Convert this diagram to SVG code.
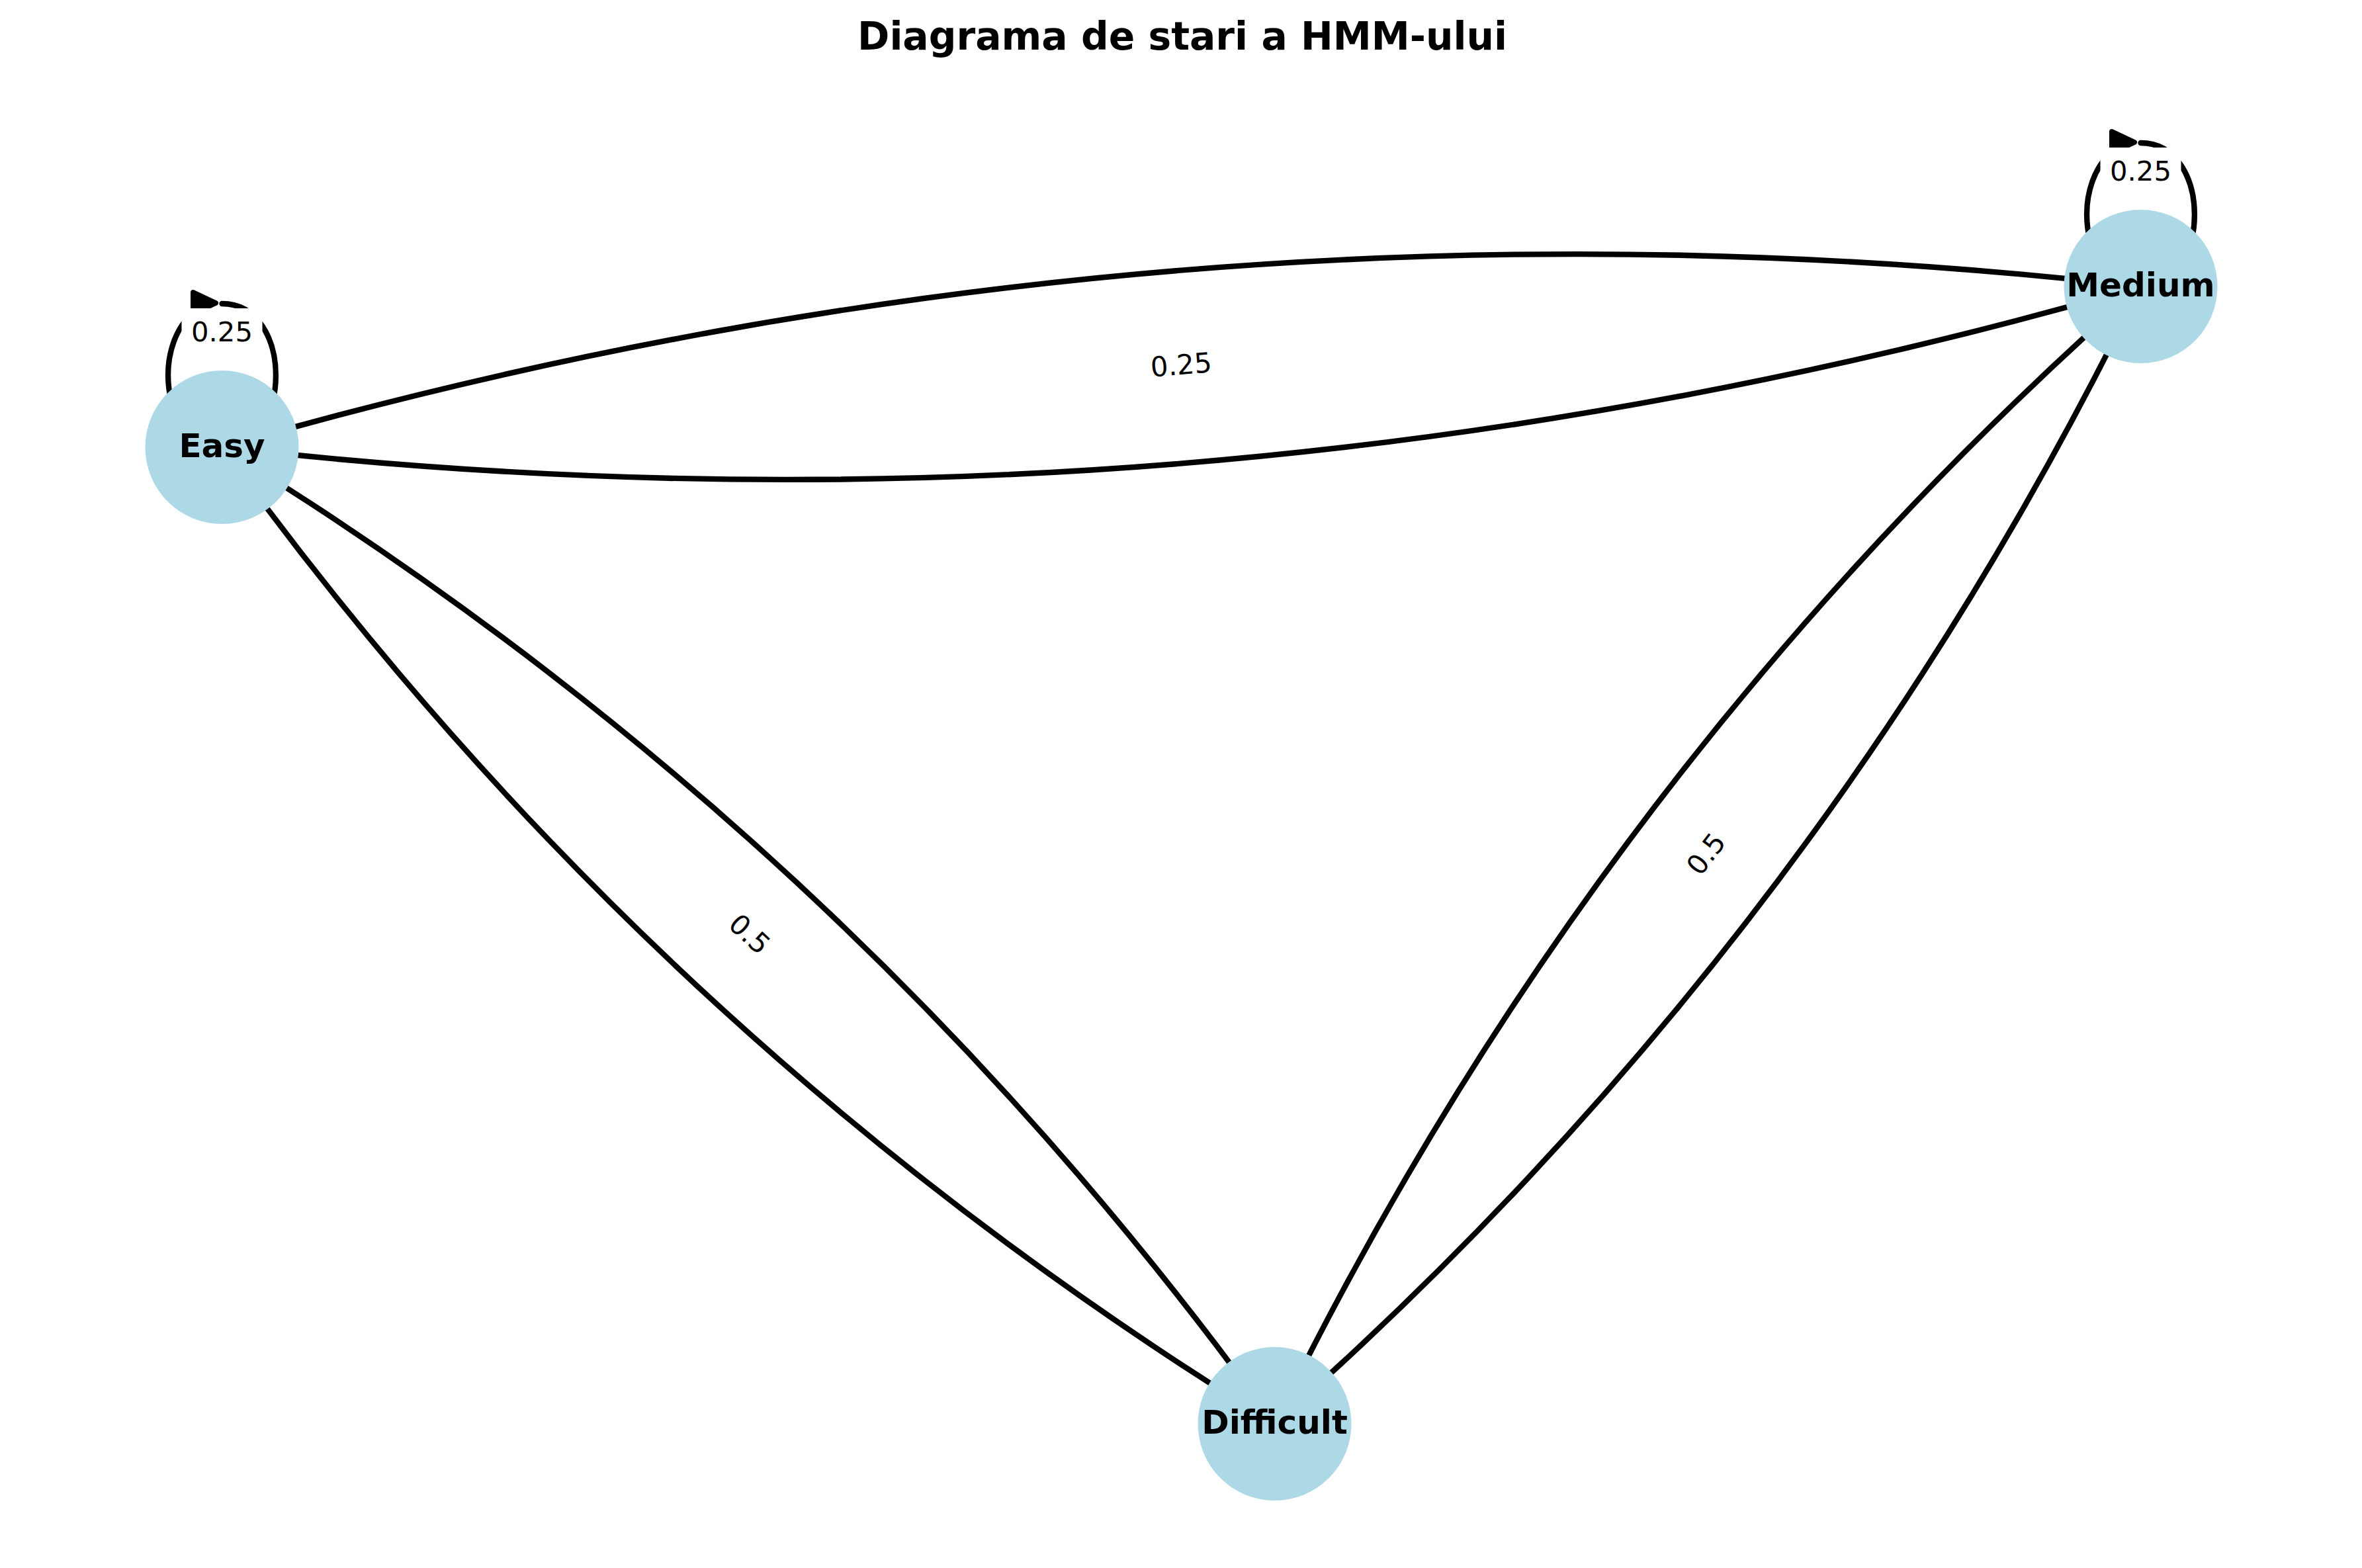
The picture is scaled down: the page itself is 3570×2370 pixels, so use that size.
<svg xmlns="http://www.w3.org/2000/svg" width="3570" height="2370" viewBox="0 0 3570 2370">
<style>
.edge{fill:none;stroke:#000;stroke-width:8.33;stroke-linecap:butt}
.loop{fill:none;stroke:#000;stroke-width:8.33;stroke-linecap:round}
.head{fill:#000;stroke:#000;stroke-width:8;stroke-linejoin:round}
.node{fill:#ADD8E6;stroke:none}
.nlab{font-family:"DejaVu Sans","Liberation Sans",sans-serif;font-weight:bold;font-size:50px;text-anchor:middle;fill:#000}
.elab{font-family:"DejaVu Sans","Liberation Sans",sans-serif;font-size:41.7px;text-anchor:middle;fill:#000}
.lbox{fill:#fff;stroke:#fff;stroke-width:4}
.title{font-family:"DejaVu Sans","Liberation Sans",sans-serif;font-weight:bold;font-size:58.3px;text-anchor:middle;fill:#000}
</style>
<rect x="0" y="0" width="3570" height="2370" fill="#fff"/>
<text class="title" x="1787" y="75">Diagrama de stari a HMM-ului</text>
<g id="connectors">
<path class="edge" d="M 335.5 676 Q 1809.8 844.5 3235.5 433"/>
<path class="edge" d="M 3235.5 433 Q 1761.2 264.5 335.5 676"/>
<path class="edge" d="M 335.5 676 Q 983.4 1573.1 1926.5 2152"/>
<path class="edge" d="M 1926.5 2152 Q 1278.6 1254.9 335.5 676"/>
<path class="edge" d="M 3235.5 433 Q 2409.1 1161.6 1926.5 2152"/>
<path class="edge" d="M 1926.5 2152 Q 2752.9 1423.4 3235.5 433"/>
<path class="loop" d="M 335.5 459 C 444 459 444 676 335.5 676 C 240.02 676 228.56 507.96 301.13 467.62"/>
<polygon class="head" points="292,442 326,458 292,474"/>
<path class="loop" d="M 3235.5 216 C 3344 216 3344 433 3235.5 433 C 3140.02 433 3128.56 264.96 3201.13 224.62"/>
<polygon class="head" points="3192,199 3226,215 3192,231"/>
</g>
<g id="node-easy">
<circle class="node" cx="335.5" cy="676" r="116"/>
<text class="nlab" x="335.5" y="691">Easy</text>
</g>
<g id="node-medium">
<circle class="node" cx="3235.5" cy="433" r="116"/>
<text class="nlab" x="3235.5" y="448">Medium</text>
</g>
<g id="node-difficult">
<circle class="node" cx="1926.5" cy="2152" r="116"/>
<text class="nlab" x="1926.5" y="2167">Difficult</text>
</g>
<g id="edge-labels">
<g transform="translate(335.5,504.5)">
<rect class="lbox" x="-59" y="-36.5" width="118" height="73" rx="12.5"/>
<text class="elab" x="0" y="11.5">0.25</text>
</g>
<g transform="translate(3235.5,261.5)">
<rect class="lbox" x="-59" y="-36.5" width="118" height="73" rx="12.5"/>
<text class="elab" x="0" y="11.5">0.25</text>
</g>
<g transform="translate(1785.5,554.5) rotate(-4.79)">
<rect class="lbox" x="-59" y="-36.5" width="118" height="73" rx="12.5"/>
<text class="elab" x="0" y="11.5">0.25</text>
</g>
<g transform="translate(1131,1414) rotate(42.85)">
<rect class="lbox" x="-45.5" y="-36.5" width="91" height="73" rx="12.5"/>
<text class="elab" x="0" y="11.5">0.5</text>
</g>
<g transform="translate(2581,1292.5) rotate(-52.7)">
<rect class="lbox" x="-45.5" y="-36.5" width="91" height="73" rx="12.5"/>
<text class="elab" x="0" y="11.5">0.5</text>
</g>
</g>
</svg>
